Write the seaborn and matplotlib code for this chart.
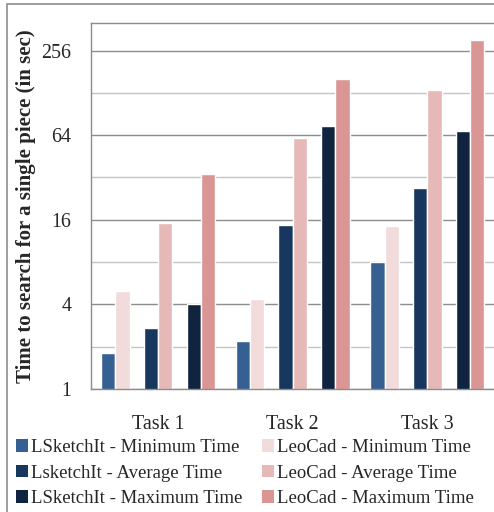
import numpy as np
import pandas as pd
import seaborn as sns
import matplotlib.pyplot as plt
from matplotlib.patches import Patch, Rectangle
from matplotlib.ticker import FixedLocator, FixedFormatter, NullFormatter

# values (seconds, log2 axis)
tasks = ['Task 1', 'Task 2', 'Task 3']
lsketchit_min = [1.8, 2.2, 8.0]
lsketchit_avg = [2.7, 14.6, 27.0]
lsketchit_max = [4.0, 74.0, 68.0]
leocad_min = [5.0, 4.4, 14.5]
leocad_avg = [15.3, 61.0, 134.0]
leocad_max = [34.0, 160.0, 302.0]

series = {
    'LSketchIt - Minimum Time': lsketchit_min,
    'LsketchIt - Average Time': lsketchit_avg,
    'LSketchIt - Maximum Time': lsketchit_max,
    'LeoCad - Minimum Time': leocad_min,
    'LeoCad - Average Time': leocad_avg,
    'LeoCad - Maximum Time': leocad_max,
}
colors = {
    'LSketchIt - Minimum Time': '#376092',
    'LsketchIt - Average Time': '#17375E',
    'LSketchIt - Maximum Time': '#10243F',
    'LeoCad - Minimum Time': '#F2DCDB',
    'LeoCad - Average Time': '#E6B9B8',
    'LeoCad - Maximum Time': '#D99694',
}

# bar order inside a group: pairs with an empty slot between them
hue_order = ['LSketchIt - Minimum Time', 'LeoCad - Minimum Time', 'gap1',
             'LsketchIt - Average Time', 'LeoCad - Average Time', 'gap2',
             'LSketchIt - Maximum Time', 'LeoCad - Maximum Time']
palette = dict(colors)
palette['gap1'] = 'white'
palette['gap2'] = 'white'

rows = []
for name, vals in series.items():
    for t, v in zip(tasks, vals):
        rows.append({'task': t, 'series': name, 'time': v})
df = pd.DataFrame(rows)

sns.set_style('white')
plt.rcParams['font.family'] = ['Liberation Serif', 'DejaVu Serif']

fig = plt.figure(figsize=(4.94, 5.12), dpi=100)
ax = fig.add_axes([90.7 / 494, 123 / 512, 404 / 494, 365.7 / 512])

sns.barplot(data=df, x='task', y='time', hue='series', hue_order=hue_order,
            palette=palette, width=0.846, saturation=1, legend=False,
            errorbar=None, ax=ax)

ax.set_yscale('log', base=2)
ax.set_ylim(1, 400)
ax.set_xlim(-0.5, 2.5)
ax.yaxis.set_major_locator(FixedLocator([1, 4, 16, 64, 256]))
ax.yaxis.set_major_formatter(FixedFormatter(['1', '4', '16', '64', '256']))
ax.yaxis.set_minor_locator(FixedLocator([2, 8, 32, 128]))
ax.yaxis.set_minor_formatter(NullFormatter())
ax.grid(axis='y', which='major', color='#8c8c8c', linewidth=1.0)
ax.grid(axis='y', which='minor', color='#c4c4c4', linewidth=1.0)
ax.set_axisbelow(True)
ax.tick_params(axis='both', which='both', length=0, labelsize=14.4)
ax.tick_params(axis='y', pad=14)
ax.tick_params(axis='x', pad=19)

for side in ['left', 'top', 'bottom', 'right']:
    ax.spines[side].set_color('#8c8c8c')
    ax.spines[side].set_linewidth(1.0)

ax.set_xlabel('')
ax.set_ylabel('Time to search for a single piece (in sec)', fontsize=15,
              fontweight='bold')
ax.yaxis.set_label_coords(-55 / 404, 0.5)

# outer chart frame
fig.add_artist(Rectangle((6.5 / 494, -0.1), 1.2, 1.1 - 3.5 / 512,
                         transform=fig.transFigure, fill=False,
                         edgecolor='#8c8c8c', linewidth=1.2))

handles = [Patch(facecolor=colors[n], edgecolor='none') for n in series]
fig.legend(handles, list(series.keys()), loc='upper left', ncol=2,
           bbox_to_anchor=(16 / 494, 1 - 439 / 512), frameon=False,
           fontsize=13.5, handlelength=0.65, handleheight=0.65,
           handletextpad=0.15, labelspacing=0.46, columnspacing=1.05,
           borderaxespad=0, borderpad=0)

fig.savefig('out.png', dpi=100)
